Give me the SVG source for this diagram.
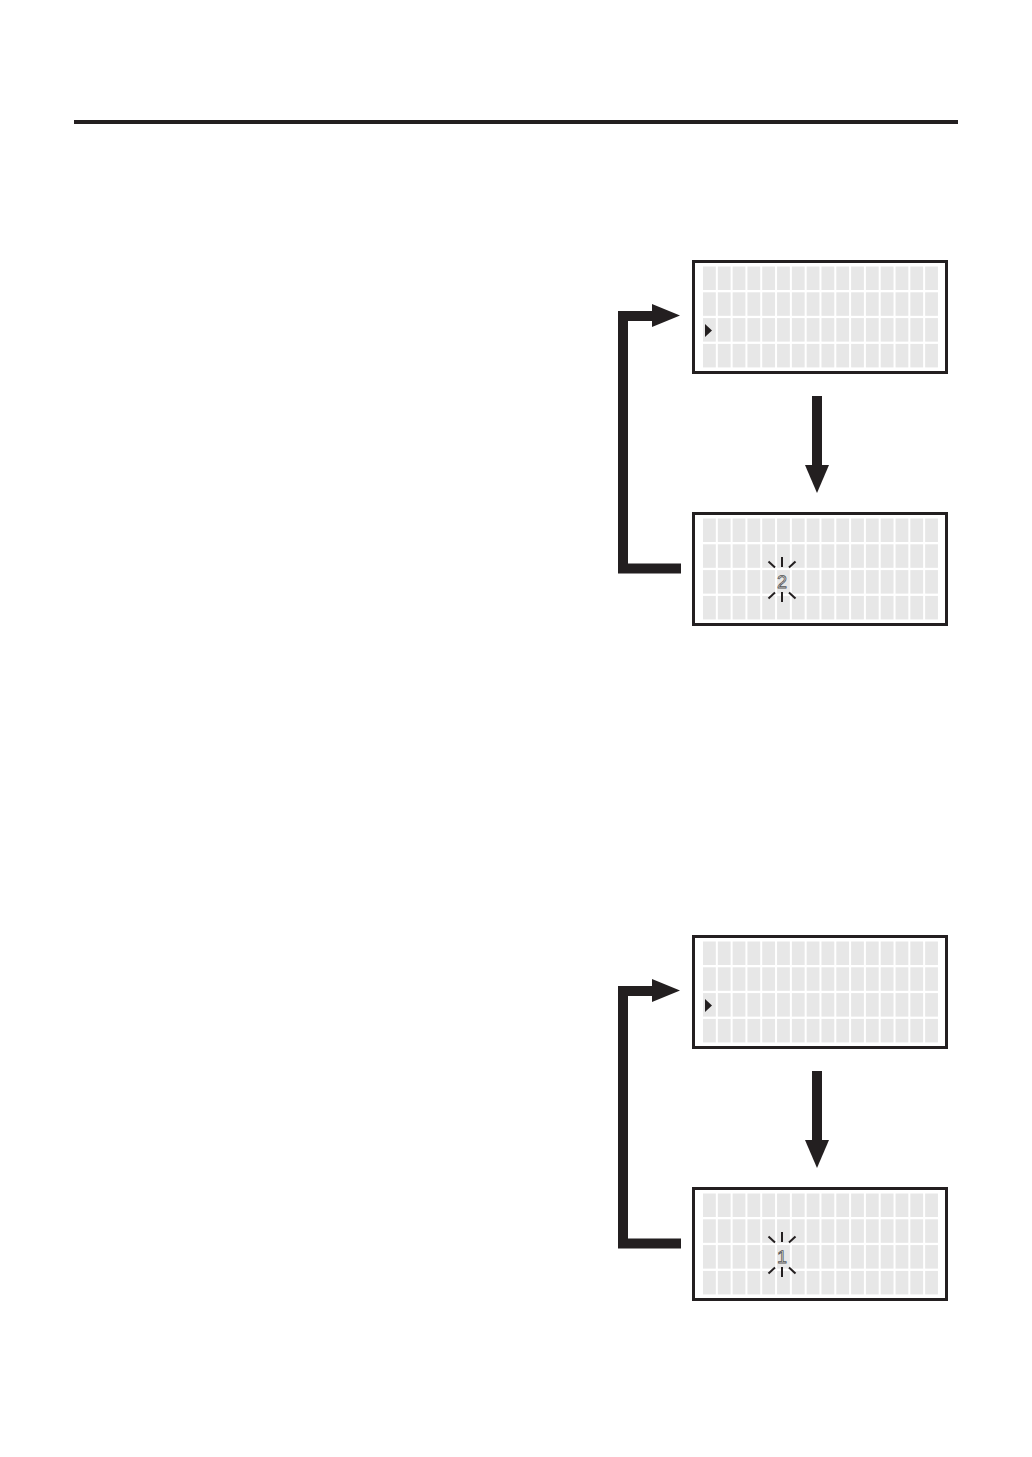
<svg xmlns="http://www.w3.org/2000/svg" xmlns:xlink="http://www.w3.org/1999/xlink" width="1032" height="1457" viewBox="0 0 1032 1457">
<style>
.frame{fill:#ffffff;stroke:#231f20;stroke-width:3}
.cell{fill:#e7e7e7}
.cursor{fill:#231f20}
.ray{stroke:#231f20;stroke-width:2;stroke-linecap:butt}
.digit{font-family:"Liberation Sans",Arial,sans-serif;font-size:18px;fill:#ececec;stroke:#555555;stroke-width:0.8;text-anchor:middle;text-rendering:geometricPrecision}
.conn{fill:none;stroke:#231f20;stroke-width:10;stroke-linejoin:miter}
.head{fill:#231f20}
</style>
<defs>
<g id="cellrow">
<rect class="cell" x="11" y="0" width="12.8" height="23.5"/>
<rect class="cell" x="25.81" y="0" width="12.8" height="23.5"/>
<rect class="cell" x="40.62" y="0" width="12.8" height="23.5"/>
<rect class="cell" x="55.43" y="0" width="12.8" height="23.5"/>
<rect class="cell" x="70.24" y="0" width="12.8" height="23.5"/>
<rect class="cell" x="85.05" y="0" width="12.8" height="23.5"/>
<rect class="cell" x="99.86" y="0" width="12.8" height="23.5"/>
<rect class="cell" x="114.67" y="0" width="12.8" height="23.5"/>
<rect class="cell" x="129.48" y="0" width="12.8" height="23.5"/>
<rect class="cell" x="144.29" y="0" width="12.8" height="23.5"/>
<rect class="cell" x="159.1" y="0" width="12.8" height="23.5"/>
<rect class="cell" x="173.91" y="0" width="12.8" height="23.5"/>
<rect class="cell" x="188.72" y="0" width="12.8" height="23.5"/>
<rect class="cell" x="203.53" y="0" width="12.8" height="23.5"/>
<rect class="cell" x="218.34" y="0" width="12.8" height="23.5"/>
<rect class="cell" x="233.15" y="0" width="12.8" height="23.5"/>
</g>
<g id="screen">
<rect class="frame" x="1.5" y="1.5" width="253" height="111"/>
<use xlink:href="#cellrow" href="#cellrow" y="6.5"/>
<use xlink:href="#cellrow" href="#cellrow" y="32.3"/>
<use xlink:href="#cellrow" href="#cellrow" y="58.1"/>
<use xlink:href="#cellrow" href="#cellrow" y="83.9"/>
</g>
<g id="rays">
<line class="ray" x1="90" y1="45" x2="90" y2="55"/>
<line class="ray" x1="76.5" y1="49.5" x2="83" y2="55.5"/>
<line class="ray" x1="103.5" y1="49.5" x2="97" y2="55.5"/>
<line class="ray" x1="90" y1="80" x2="90" y2="90"/>
<line class="ray" x1="83" y1="80.5" x2="76.5" y2="86.5"/>
<line class="ray" x1="97" y1="80.5" x2="103.5" y2="86.5"/>
</g>
</defs>

<rect x="74" y="120" width="884" height="4" fill="#231f20"/>

<g id="screen1" transform="translate(692,260)">
<use xlink:href="#screen" href="#screen"/>
<polygon class="cursor" points="13,64 20,70.5 13,77"/>
</g>

<g id="screen2" transform="translate(692,512)">
<use xlink:href="#screen" href="#screen"/>
<use xlink:href="#rays" href="#rays"/>
<text class="digit" x="90" y="76">2</text>
</g>

<g id="screen3" transform="translate(692,935)">
<use xlink:href="#screen" href="#screen"/>
<polygon class="cursor" points="13,64 20,70.5 13,77"/>
</g>

<g id="screen4" transform="translate(692,1187)">
<use xlink:href="#screen" href="#screen"/>
<use xlink:href="#rays" href="#rays"/>
<text class="digit" x="90" y="76">1</text>
</g>

<g id="connectors">
<line class="conn" x1="817" y1="396" x2="817" y2="467"/>
<polygon class="head" points="805,465 829,465 817,493"/>
<path class="conn" d="M681 568.5 H623 V316 H655"/>
<polygon class="head" points="652,304 680,315.5 652,327"/>

<line class="conn" x1="817" y1="1071" x2="817" y2="1142"/>
<polygon class="head" points="805,1140 829,1140 817,1168"/>
<path class="conn" d="M681 1243.5 H623 V991 H655"/>
<polygon class="head" points="652,979 680,990.5 652,1002"/>
</g>
</svg>
